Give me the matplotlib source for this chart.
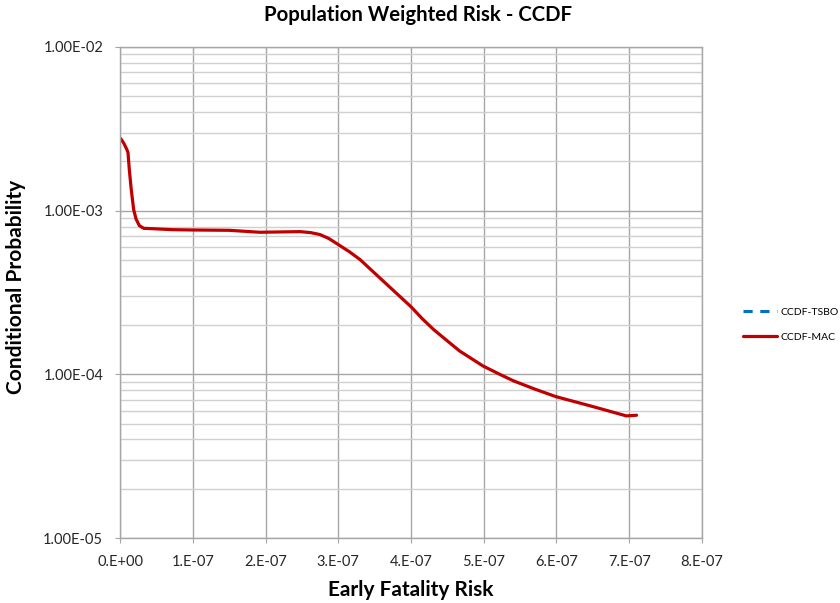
import matplotlib
matplotlib.use("Agg")
import matplotlib.pyplot as plt
from matplotlib.ticker import FixedLocator, FixedFormatter, LogLocator, NullFormatter

# Data: x = early fatality risk (units of 1e-7), log10 of conditional probability
mac_x_e7 = [0.01, 0.051, 0.092, 0.110, 0.128, 0.155, 0.188, 0.220, 0.265, 0.326,
            0.44, 0.715, 1.0, 1.5, 1.924, 2.20, 2.474, 2.62, 2.749, 2.87, 3.0, 3.15, 3.30, 3.62,
            4.0, 4.15, 4.31, 4.50, 4.67, 4.99, 5.22, 5.41, 5.70, 5.99, 6.5, 6.96, 7.1]
mac_logy = [-2.560, -2.587, -2.624, -2.645, -2.750, -2.872, -2.994, -3.050, -3.091, -3.108,
            -3.110, -3.116, -3.118, -3.120, -3.132, -3.130, -3.128, -3.134, -3.146, -3.170,
            -3.207, -3.250, -3.299, -3.431,
            -3.587, -3.658, -3.726, -3.796, -3.858, -3.949, -4.000, -4.040, -4.090, -4.136,
            -4.197, -4.254, -4.250]
mac_x = [v * 1e-7 for v in mac_x_e7]
mac_y = [10 ** v for v in mac_logy]
tsbo_x = []
tsbo_y = []

xticks = [0, 1e-7, 2e-7, 3e-7, 4e-7, 5e-7, 6e-7, 7e-7, 8e-7]
xticklabels = ["0.E+00", "1.E-07", "2.E-07", "3.E-07", "4.E-07", "5.E-07", "6.E-07", "7.E-07", "8.E-07"]
yticks = [1e-5, 1e-4, 1e-3, 1e-2]
yticklabels = ["1.00E-05", "1.00E-04", "1.00E-03", "1.00E-02"]

plt.rcParams['font.family'] = ['Lato', 'DejaVu Sans']

W, H = 840, 603
fig = plt.figure(figsize=(8.4, 6.03), dpi=100)
ax = fig.add_axes([120/W, 1-538/H, (702-120)/W, (538-47)/H])

ax.plot(tsbo_x, tsbo_y, color="#0070C0", lw=2.2, ls=(0, (3, 2.5)), label="CCDF-TSBO")
ax.plot(mac_x, mac_y, color="#C00000", lw=2.3, label="CCDF-MAC",
        solid_capstyle="round", solid_joinstyle="round")

ax.set_yscale("log")
ax.set_xlim(0, 8e-7)
ax.set_ylim(1e-5, 1e-2)
ax.xaxis.set_major_locator(FixedLocator(xticks))
ax.xaxis.set_major_formatter(FixedFormatter(xticklabels))
ax.yaxis.set_major_locator(FixedLocator(yticks))
ax.yaxis.set_major_formatter(FixedFormatter(yticklabels))
ax.yaxis.set_minor_locator(LogLocator(base=10, subs=range(2, 10)))
ax.yaxis.set_minor_formatter(NullFormatter())

ax.grid(True, which="major", axis="both", color="#a6a6a6", lw=1.0)
ax.grid(True, which="minor", axis="y", color="#d0d0d0", lw=1.0)
ax.set_axisbelow(True)
for s in ax.spines.values():
    s.set_color("#a6a6a6")
    s.set_linewidth(1.0)
ax.tick_params(axis="both", which="major", direction="out", length=3.6, color="#a6a6a6",
               labelsize=10.5, labelcolor="#262626", pad=8.5)
ax.tick_params(axis="y", which="minor", length=0)

fig.text(417.5/W, 1-15/H, "Population Weighted Risk - CCDF", fontsize=14.7,
         fontweight="bold", ha="center", va="center")
fig.text(410.5/W, 1-590/H, "Early Fatality Risk", fontsize=15,
         fontweight="bold", ha="center", va="center")
fig.text(16/W, 1-287/H, "Conditional Probability", fontsize=15, rotation=90,
         fontweight="bold", ha="center", va="center")

fig.legend(*ax.get_legend_handles_labels(), loc="center left",
           bbox_to_anchor=(743/W, 1-324.5/H), frameon=False, fontsize=7.5,
           handlelength=3.3, handletextpad=0.3, labelspacing=1.5,
           borderaxespad=0, borderpad=0)

fig.savefig("out.png", dpi=100)
